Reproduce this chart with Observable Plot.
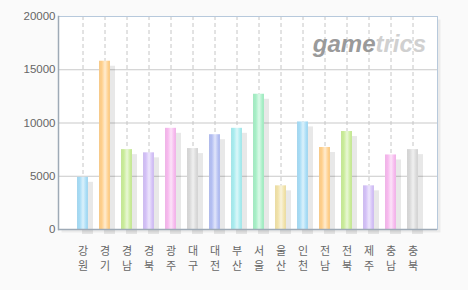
<!DOCTYPE html>
<html>
<head>
<meta charset="utf-8">
<script src="https://cdn.jsdelivr.net/npm/d3@7"></script>
<script src="https://cdn.jsdelivr.net/npm/@observablehq/plot@0.6"></script>
<style>
  html, body { margin: 0; padding: 0; background: #fafafa; }
</style>
</head>
<body>
<div id="chart"></div>
<script>
// ---- data ----
const regions = ["강원","경기","경남","경북","광주","대구","대전","부산","서울","울산","인천","전남","전북","제주","충남","충북"];
const counts  = [4900, 15800, 7500, 7200, 9500, 7600, 8900, 9500, 12700, 4100, 10100, 7700, 9200, 4100, 7000, 7500];
const yTicks  = [0, 5000, 10000, 15000, 20000];
const gridTicks = [5000, 10000, 15000];

// ---- style ----
const palette = ["#a6dcf6","#ffcf8a","#c9ec98","#d3c0f7","#f7b8ee","#d9d9d9","#b3bef2","#a7ecef","#a6efc6","#f1e2a8"];

const data = regions.map((r, i) => ({region: r, count: counts[i], idx: i % palette.length}));

const plot = Plot.plot({
  width: 468,
  height: 290,
  marginLeft: 58,
  marginRight: 31,
  marginTop: 16,
  marginBottom: 61,
  style: {background: "#fafafa", fontFamily: "'Liberation Sans', Arial, sans-serif"},
  x: {type: "band", domain: regions, paddingInner: 0.5, paddingOuter: 0.75, axis: null},
  y: {domain: [0, 20000], axis: null, label: null},
  color: {type: "identity"},
  marks: [
    // frame shadow
    Plot.frame({fill: "#000", fillOpacity: 0.06, dx: 3, dy: 3, ariaLabel: "frameshadow"}),
    Plot.frame({fill: "white"}),
    // grid
    Plot.ruleY(gridTicks, {stroke: "#c9c9c9", strokeWidth: 1}),
    Plot.ruleX(regions, {x: d => d, stroke: "#c6c6c6", strokeDasharray: "4,3"}),
    // watermark
    Plot.text(["game"], {frameAnchor: "top-right", text: d => d, dx: -62, dy: 18, textAnchor: "end",
      fontSize: 24, fontWeight: "bold", fontStyle: "italic", fill: "#9a9a9a", fontFamily: "'Liberation Sans', Arial, sans-serif"}),
    Plot.text(["trics"], {frameAnchor: "top-right", text: d => d, dx: -62, dy: 18, textAnchor: "start",
      fontSize: 24, fontWeight: "bold", fontStyle: "italic", fill: "#d0d0d0", fontFamily: "'Liberation Sans', Arial, sans-serif"}),
    // bar shadows
    Plot.barY(data, {x: "region", y: "count", fill: "#000", fillOpacity: 0.09, dx: 5, dy: 5, ariaLabel: "shadow"}),
    // bars
    Plot.barY(data, {x: "region", y: "count", fill: d => `url(#bargrad${d.idx})`, ariaLabel: "bars"}),
    // frame borders
    Plot.frame({stroke: "#b7c9dc"}),
    Plot.ruleY([0], {stroke: "#9eaab6", strokeWidth: 1.5}),
    Plot.frame({anchor: "left", stroke: "#9eaab6", strokeWidth: 1.5}),
    // y axis labels
    Plot.axisY(yTicks, {tickSize: 0, tickPadding: 3, tickFormat: d => String(d), fontSize: 11.5, fill: "#666", label: null}),
    // x labels (vertical stacked)
    Plot.text(data, {x: "region", text: d => [...d.region].join("\n"), frameAnchor: "bottom",
      lineAnchor: "top", dy: 14, lineHeight: 1.42, fontSize: 11, fill: "#666",
      fontFamily: "'Noto Sans CJK KR', sans-serif"})
  ]
});

// gradients + filters
const svg = d3.select(plot);
const defs = svg.insert("defs", ":first-child");
palette.forEach((c, i) => {
  const base = d3.color(c);
  const dark = d3.interpolateRgb(c, "#888")(0.08);
  const light = d3.interpolateRgb(c, "#fff")(0.6);
  const g = defs.append("linearGradient").attr("id", `bargrad${i}`).attr("x1", 0).attr("x2", 1).attr("y1", 0).attr("y2", 0);
  g.append("stop").attr("offset", "0%").attr("stop-color", dark);
  g.append("stop").attr("offset", "25%").attr("stop-color", base.formatHex());
  g.append("stop").attr("offset", "55%").attr("stop-color", light);
  g.append("stop").attr("offset", "85%").attr("stop-color", base.formatHex());
  g.append("stop").attr("offset", "100%").attr("stop-color", dark);
});
const f = defs.append("filter").attr("id", "blur2").attr("x", "-50%").attr("y", "-50%").attr("width", "200%").attr("height", "200%");
f.append("feGaussianBlur").attr("stdDeviation", 2.5);
const f2 = defs.append("filter").attr("id", "blur1").attr("x", "-10%").attr("y", "-10%").attr("width", "120%").attr("height", "120%");
f2.append("feGaussianBlur").attr("stdDeviation", 1.5);
svg.selectAll("g[aria-label=shadow]").attr("filter", "url(#blur2)");
svg.selectAll("g[aria-label=frameshadow]").attr("filter", "url(#blur1)");

document.getElementById("chart").appendChild(plot);
</script>
</body>
</html>
